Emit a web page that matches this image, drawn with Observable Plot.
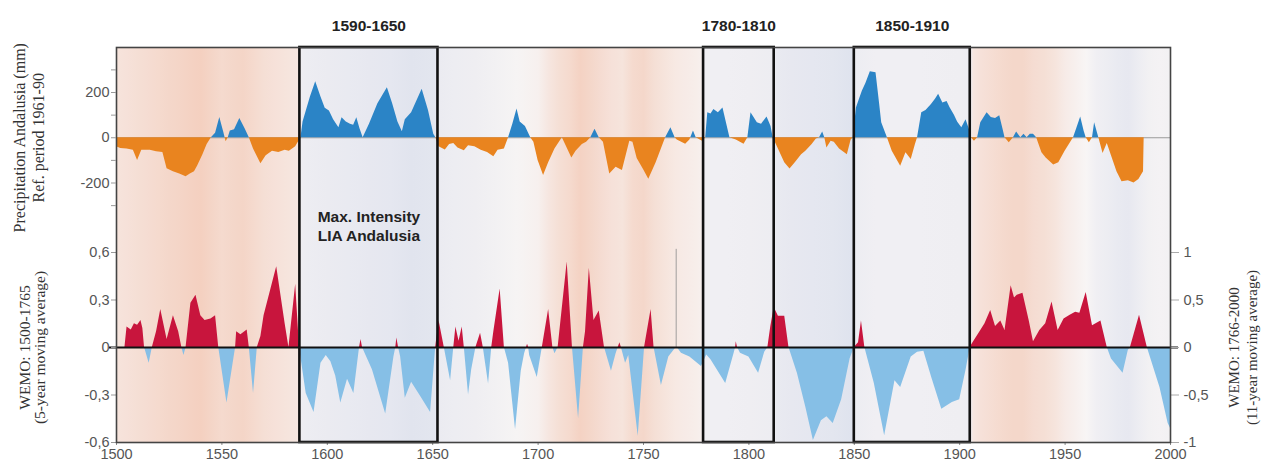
<!DOCTYPE html>
<html><head><meta charset="utf-8">
<script src="https://cdn.jsdelivr.net/npm/d3@7"></script>
<script src="https://cdn.jsdelivr.net/npm/@observablehq/plot@0.6"></script>
<style>
html,body{margin:0;padding:0;background:#fff;}
#wrap{position:relative;width:1261px;height:468px;overflow:hidden;}
#wrap svg{position:absolute;left:0;top:0;}
</style></head><body><div id="wrap"></div>
<script>
// Precipitation Andalusia anomaly (mm), ref. 1961-90  [year, value]
const precipSeries = [[1500,-40],[1502,-48],[1505,-50],[1508,-55],[1510,-100],[1512,-55],[1516,-55],[1519,-62],[1522,-65],[1524,-137],[1527,-150],[1530,-160],[1533,-172],[1535,-160],[1537,-150],[1538.5,-125],[1541,-75],[1543,-30],[1545,0],[1547,20],[1549,89],[1551,20],[1552,-18],[1553,0],[1554,30],[1556,35],[1558.5,85],[1561,40],[1563,0],[1565,-50],[1568.5,-115],[1571,-80],[1574,-60],[1577,-65],[1580,-55],[1582,-60],[1585,-40],[1587.5,0],[1588.5,70],[1592,180],[1594.5,248],[1597,180],[1599,130],[1601,118],[1603,80],[1605.5,44],[1607,88],[1609,70],[1611,60],[1612.5,55],[1614,88],[1615.5,40],[1617,0],[1620,60],[1624,150],[1628.5,221],[1631,150],[1633.5,70],[1635.6,26],[1637,80],[1640,110],[1645,214],[1648,120],[1650.5,15],[1651.5,0],[1653,-40],[1656,-54],[1658,-30],[1660,-25],[1662,-45],[1665,-57],[1667,-35],[1670,-40],[1673,-55],[1676,-65],[1679,-84],[1681,-55],[1684,-50],[1686,0],[1688,60],[1690,127],[1691.5,70],[1694,50],[1696.5,0],[1698,-20],[1700,-100],[1702.6,-167],[1705,-110],[1708,-50],[1711.5,0],[1713,-30],[1716,-90],[1718,-60],[1721,-30],[1723,-20],[1725,0],[1727,38],[1729,0],[1731,-20],[1734,-160],[1737,-130],[1740,-145],[1743.5,-15],[1745,-20],[1747,-92],[1750,-140],[1752.5,-183],[1756,-110],[1760.5,0],[1763,44],[1765,0],[1766,-10],[1770,-29],[1772,-10],[1773.7,30],[1775,0],[1778,-15],[1779.5,0],[1780.5,110],[1782,105],[1783.4,125],[1785.5,110],[1787.7,132],[1790,40],[1791,0],[1794,-10],[1797.7,-29],[1799.5,0],[1801,110],[1804,66],[1806,60],[1808.6,92],[1810.5,50],[1811.5,0],[1814,-50],[1817,-110],[1819.5,-138],[1822,-110],[1825,-75],[1827,-60],[1830,-30],[1832,-5],[1833.5,0],[1835,25],[1836,0],[1837,-45],[1839,-15],[1840.5,-20],[1843,-50],[1846.7,-75],[1848.5,-10],[1849.5,0],[1851,132],[1853.8,205],[1855.5,240],[1857.6,292],[1860.3,287],[1862,150],[1863,66],[1865.7,0],[1868,-60],[1872,-126],[1874.5,-66],[1877,-96],[1879,-30],[1880,0],[1882,110],[1884,120],[1886.5,146],[1888.5,170],[1890,192],[1892,154],[1894,160],[1895.5,132],[1897.5,100],[1899,70],[1901,44],[1903,80],[1904.5,40],[1905.6,0],[1907,-15],[1908.5,0],[1910,66],[1913,110],[1915,90],[1917,85],[1919,97],[1920.5,40],[1921.5,0],[1923.5,-22],[1925.5,0],[1927,25],[1929,0],[1930.5,15],[1932,0],[1933.5,15],[1935,15],[1936.5,0],[1939,-66],[1941,-90],[1944.6,-120],[1947,-110],[1950,-60],[1952,-30],[1954,0],[1955.5,40],[1957.4,92],[1959,30],[1960,0],[1961.5,-22],[1963,0],[1964,66],[1966,0],[1968,-70],[1970,-25],[1972,-80],[1974.6,-150],[1977,-195],[1980,-190],[1982.7,-200],[1985,-185],[1987.2,-150],[1987.5,0]];

// WEMO 1500-1765, 5-year moving average (left axis units)
const wemoEarly = [[1500,0],[1504,0],[1505,0.13],[1507,0.11],[1508.5,0.15],[1510,0.14],[1511.6,0.17],[1512.5,0.12],[1513.3,0],[1515.5,-0.10],[1517,0],[1519,0.1],[1521,0.24],[1524,0.05],[1527,0.2],[1529.5,0.1],[1531,0],[1532,-0.05],[1533,0],[1535.3,0.28],[1537.7,0.33],[1540,0.2],[1542,0.17],[1544.8,0.18],[1547,0.2],[1548.5,0],[1552.4,-0.35],[1555.8,-0.06],[1556.5,0],[1557,0.1],[1559,0.08],[1562,0.11],[1563,0],[1565,-0.29],[1566.8,0],[1568.5,0.07],[1570,0.2],[1576,0.51],[1580,0.15],[1581.8,0],[1585,0.4],[1586.8,0],[1590,-0.29],[1593.7,-0.41],[1597,-0.1],[1599.5,-0.05],[1601.7,-0.09],[1604,-0.18],[1606.4,-0.35],[1609.6,-0.2],[1612.6,-0.29],[1615.3,0],[1616,0.05],[1616.7,0],[1618,-0.04],[1621.4,-0.14],[1627.7,-0.42],[1631.6,-0.06],[1632.5,0],[1633,0.06],[1633.8,0],[1634.8,-0.06],[1637,-0.32],[1640,-0.22],[1644.3,-0.31],[1649,-0.41],[1651.4,0],[1653,0.17],[1655.5,0],[1658.5,-0.21],[1660,0],[1661,0.13],[1662.5,0.04],[1664,0.13],[1665,0],[1667,-0.3],[1668.5,-0.14],[1670.5,0],[1672.7,0.09],[1674,0],[1676.5,-0.23],[1678,0],[1679,0.1],[1682,0.37],[1684,0],[1686,-0.1],[1689.3,-0.52],[1692,-0.15],[1693.6,-0.04],[1694.5,0],[1695,0.02],[1695.5,0],[1696,-0.05],[1699.6,-0.19],[1702,0],[1705,0.24],[1707,0],[1708,-0.04],[1709.5,0],[1713.8,0.54],[1716.3,0],[1719.2,-0.45],[1721.5,0],[1722.5,0.1],[1724.3,0.5],[1726.5,0.17],[1729,0.23],[1731.5,0],[1734.8,-0.15],[1737,-0.04],[1738,0],[1738.8,0.03],[1739.5,0],[1741.5,-0.1],[1743,-0.05],[1747.5,-0.56],[1750.5,0],[1753.6,0.24],[1755,0],[1758.5,-0.24],[1762,-0.06],[1765.5,0]];

// WEMO 1766-2000, 11-year moving average (right axis units)
const wemoLate = [[1766,0],[1768,-0.06],[1772,-0.1],[1777.5,-0.2],[1780,-0.08],[1782,-0.13],[1789,-0.38],[1793,-0.06],[1793.7,0],[1794,0.06],[1794.6,0],[1796,-0.06],[1800,-0.1],[1804.6,-0.27],[1807.5,-0.05],[1809,0],[1810.4,0.22],[1812,0.42],[1814,0.33],[1817,0.33],[1819,0],[1823,-0.27],[1827,-0.63],[1830.6,-0.98],[1834.4,-0.77],[1837,-0.73],[1840,-0.8],[1844,-0.55],[1848,-0.12],[1850,0],[1852,0.05],[1853.4,0.28],[1855,0],[1859.5,-0.38],[1864.4,-0.93],[1869.3,-0.35],[1872,-0.42],[1877,-0.1],[1880,-0.05],[1883,-0.04],[1886.8,-0.32],[1891.5,-0.65],[1896.5,-0.58],[1900,-0.55],[1903,-0.24],[1905,0],[1906,0.04],[1910,0.18],[1912,0.25],[1914.7,0.39],[1917,0.22],[1919.5,0.28],[1921.5,0.18],[1924.4,0.65],[1926,0.52],[1927.3,0.55],[1930,0.57],[1933,0.28],[1935,0.06],[1938,0.18],[1940.8,0.25],[1943.8,0.48],[1946.7,0.18],[1949.5,0.3],[1952.4,0.34],[1955,0.37],[1957,0.36],[1960,0.58],[1963,0.23],[1967,0.28],[1970,0],[1972,-0.12],[1977.5,-0.27],[1980,-0.03],[1981,0],[1985.3,0.34],[1989,0],[1995,-0.42],[1998.9,-0.8],[2000,-0.85]];

// background warm(+)/cool(-) tone  [year, tone]
const bgTone = [[1500,0.35],[1505,0.4],[1510,0.45],[1515,0.5],[1520,0.55],[1525,0.6],[1530,0.65],[1535,0.7],[1540,0.75],[1545,0.65],[1550,0.55],[1555,0.6],[1560,0.65],[1565,0.55],[1570,0.45],[1575,0.4],[1580,0.35],[1586,0.3],[1587.5,-0.25],[1590,-0.3],[1600,-0.35],[1610,-0.4],[1620,-0.45],[1630,-0.5],[1640,-0.6],[1651,-0.55],[1653,-0.35],[1660,-0.3],[1670,-0.25],[1680,-0.15],[1690,-0.05],[1700,0.1],[1705,0.3],[1710,0.45],[1715,0.55],[1720,0.7],[1725,0.6],[1730,0.5],[1735,0.4],[1740,0.35],[1745,0.55],[1750,0.6],[1755,0.45],[1760,0.35],[1765,0.25],[1770,0.2],[1775,0.15],[1778,0.1],[1779,-0.2],[1790,-0.2],[1800,-0.25],[1811,-0.3],[1813,-0.4],[1820,-0.45],[1830,-0.5],[1840,-0.55],[1849,-0.65],[1851,-0.3],[1860,-0.2],[1880,-0.2],[1900,-0.25],[1905,-0.3],[1906.5,0.3],[1910,0.4],[1920,0.55],[1925,0.6],[1930,0.6],[1935,0.5],[1940,0.45],[1945,0.35],[1950,0.2],[1955,0.1],[1960,0.0],[1965,-0.2],[1970,-0.3],[1975,-0.4],[1980,-0.45],[1985,-0.3],[1990,-0.15],[1995,-0.1],[2000,-0.15]];

const boxStart = [1587, 1778.5, 1850];
const boxEnd = [1652.5, 1812, 1905];
const boxLabels = ["1590-1650", "1780-1810", "1850-1910"];
const noteLabel = "Max. Intensity\nLIA Andalusia";
const splitYear = 1765.5;

const xTicks = [1500,1550,1600,1650,1700,1750,1800,1850,1900,1950,2000];
const precipTicks = [-300,-200,-100,0,100,200,300];
const precipTickLabels = [-200,0,200];
const wemoLeftTicks = [-0.6,-0.3,0,0.3,0.6];
const wemoRightTicks = [-1,-0.5,0,0.5,1];
const lateToLeft = 0.6; // right axis ±1 ↔ left axis ±0.6

const titleTop = "Precipitation Andalusia (mm)\nRef. period 1961-90";
const titleLeft = "WEMO: 1500-1765\n(5-year moving average)";
const titleRight = "WEMO: 1766-2000\n(11-year moving average)";

// ---------- helpers ----------
function splitSign(series) {
  const pos = [], neg = [];
  for (let i = 0; i < series.length; i++) {
    const [x, y] = series[i];
    if (i > 0) {
      const [x0, y0] = series[i - 1];
      if ((y0 > 0 && y < 0) || (y0 < 0 && y > 0)) {
        const xc = x0 + (x - x0) * (y0 / (y0 - y));
        pos.push({x: xc, y: 0}); neg.push({x: xc, y: 0});
      }
    }
    pos.push({x, y: Math.max(0, y)});
    neg.push({x, y: Math.min(0, y)});
  }
  return {pos, neg};
}
const fmtComma = v => String(Math.round(v * 100) / 100).replace(".", ",");

const W = 1261, H = 468;
const M = {top: 47, right: 91, bottom: 26, left: 116};
const sans = "'Liberation Sans', Arial, sans-serif";
const serif = "'Liberation Serif', 'Times New Roman', serif";

const precip = splitSign(precipSeries);
const wemoAll = wemoEarly.concat(wemoLate.map(([x, v]) => [x, v * lateToLeft]));
const wemo = splitSign(wemoAll);

const neutral = "#f8f5f5", warm = "#f2c3ae", cool = "#d2d9ea";
const toneColor = t => t >= 0 ? d3.interpolateRgb(neutral, warm)(t) : d3.interpolateRgb(neutral, cool)(-t);

// ---------- bottom layer: background + WEMO ----------
const plotA = Plot.plot({
  width: W, height: H,
  marginTop: M.top, marginRight: M.right, marginBottom: M.bottom, marginLeft: M.left,
  style: {fontFamily: sans, background: "white"},
  x: {domain: [1500, 2000]},
  y: {domain: [-0.6, 0.6], range: [442, 252]},
  marks: [
    Plot.frame({fill: "url(#bgGrad)", stroke: "none"}),
    Plot.areaY(wemo.pos, {x: "x", y: "y", fill: "#c8153d", curve: "linear"}),
    Plot.areaY(wemo.neg, {x: "x", y: "y", fill: "#86bfe6", curve: "linear"}),
    Plot.ruleX([splitYear], {y1: 0, y2: 0.62, stroke: "#8a8a8a", strokeWidth: 0.8}),
    Plot.ruleY([0], {stroke: "#111", strokeWidth: 2.2, insetLeft: -7, insetRight: -8}),
    Plot.axisX(xTicks, {anchor: "bottom", label: null, tickSize: 3, tickPadding: 3, fontSize: 14.5, fill: "#555", stroke: "#888", tickFormat: d => String(d)}),
    Plot.axisY(wemoLeftTicks, {anchor: "left", label: null, tickSize: 5, tickPadding: 2, fontSize: 14.5, fill: "#555", stroke: "#999", tickFormat: fmtComma}),
    Plot.axisY(wemoRightTicks.map(v => v * lateToLeft), {anchor: "right", label: null, tickSize: 8, tickPadding: 5, fontSize: 14.5, fill: "#555", stroke: "#aaa", tickFormat: v => fmtComma(v / lateToLeft)}),
    Plot.text([noteLabel], {x: (boxStart[0] + boxEnd[0]) / 2, y: 0.77, text: d => d, fontSize: 15.5, fontWeight: "bold", fill: "#222", lineHeight: 1.22, textAnchor: "middle", lineAnchor: "middle"}),
    Plot.text([titleLeft], {frameAnchor: "left", y: 0, dx: -84, rotate: -90, text: d => d, fontFamily: serif, fontSize: 15.5, fill: "#333", lineHeight: 1.0, textAnchor: "middle", lineAnchor: "middle"}),
    Plot.text([titleRight], {frameAnchor: "right", y: 0, dx: 72, rotate: -90, text: d => d, fontFamily: serif, fontSize: 15, fill: "#333", lineHeight: 1.15, textAnchor: "middle", lineAnchor: "middle"})
  ]
});

const xs = plotA.scale("x");
const defs = d3.select(plotA).insert("defs", ":first-child");
const grad = defs.append("linearGradient").attr("id", "bgGrad")
  .attr("gradientUnits", "userSpaceOnUse")
  .attr("x1", xs.apply(1500)).attr("x2", xs.apply(2000)).attr("y1", 0).attr("y2", 0);
bgTone.forEach(([yr, t]) => grad.append("stop").attr("offset", (yr - 1500) / 500).attr("stop-color", toneColor(t)));

// ---------- top layer: precipitation + boxes + frame ----------
const boxes = boxStart.map((s, i) => ({s, e: boxEnd[i], label: boxLabels[i]}));
const plotB = Plot.plot({
  width: W, height: H,
  marginTop: M.top, marginRight: M.right, marginBottom: M.bottom, marginLeft: M.left,
  style: {fontFamily: sans, background: "transparent", overflow: "visible"},
  x: {domain: [1500, 2000], axis: null},
  y: {domain: [-200, 200], range: [182.5, 92], axis: null},
  marks: [
    Plot.ruleY([0], {stroke: "#9a9a9a", strokeWidth: 1}),
    Plot.areaY(precip.pos, {x: "x", y: "y", fill: "#2b84c6", curve: "linear"}),
    Plot.areaY(precip.neg, {x: "x", y: "y", fill: "#e9841f", curve: "linear"}),
    Plot.rect(boxes, {x1: "s", x2: "e", fill: "none", stroke: "#111", strokeWidth: 2.6}),
    Plot.frame({stroke: "#444", strokeWidth: 1.6}),
    Plot.text(boxes, {x: d => (d.s + d.e) / 2, frameAnchor: "top", dy: -21, text: "label", fontSize: 15.5, fontWeight: "bold", fill: "#222", lineAnchor: "middle"}),
    Plot.axisY(precipTicks, {anchor: "left", label: null, tickSize: 5, tickPadding: 2, fontSize: 14.5, fill: "#555", stroke: "#999", tickFormat: d => precipTickLabels.includes(d) ? String(d) : ""}),
    Plot.text([titleTop], {frameAnchor: "left", y: 0, dx: -88, rotate: -90, text: d => d, fontFamily: serif, fontSize: 16, fill: "#333", lineHeight: 1.18, textAnchor: "middle", lineAnchor: "middle"})
  ]
});

const wrap = document.getElementById("wrap");
wrap.appendChild(plotA);
wrap.appendChild(plotB);
</script></body></html>
